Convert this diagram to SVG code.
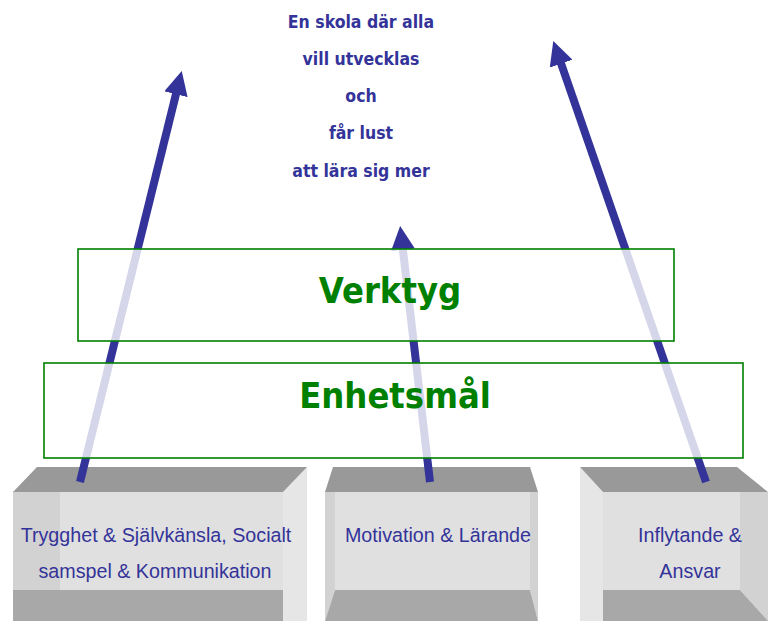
<svg xmlns="http://www.w3.org/2000/svg" width="768" height="621" viewBox="0 0 768 621">
<style>
.ceil{fill:#999999}
.floor{fill:#a8a8a8}
.back{fill:#e0e0e0}
.sideD{fill:#d2d2d2}
.sideL{fill:#e6e6e6}
.lbl{font-family:"Liberation Sans",Arial,sans-serif;font-size:19.7px;fill:#333399;text-anchor:middle}
.goal{font-family:"DejaVu Sans Condensed","DejaVu Sans",sans-serif;font-weight:bold;font-size:17.5px;fill:#333399;text-anchor:middle}
.band{fill:#ffffff;fill-opacity:0.8;stroke:#008000;stroke-width:1.6}
.head{font-family:"DejaVu Sans Condensed","DejaVu Sans",sans-serif;font-weight:bold;font-size:36px;fill:#008000;text-anchor:middle}
.arr{stroke:#333399;stroke-width:8;fill:none;marker-end:url(#ah)}
</style>
<defs>
<marker id="ah" markerUnits="userSpaceOnUse" markerWidth="24" markerHeight="24" refX="1" refY="12" orient="auto" viewBox="0 0 24 24">
<path d="M0,0 L24,12 L0,24 z" fill="#333399"/>
</marker>
</defs>
<rect width="768" height="621" fill="#ffffff"/>

<g id="box1">
<rect class="back" x="13" y="492" width="270" height="98"/>
<rect class="sideD" x="13" y="492" width="47" height="98"/>
<polygon class="sideL" points="283,492 307,467 307,621 283,621"/>
<polygon class="ceil" points="37,467 307,467 283,492 13,492"/>
<rect class="floor" x="13" y="590" width="270" height="31"/>
<text class="lbl" x="156" y="542">Trygghet &amp; Självkänsla, Socialt</text>
<text class="lbl" x="155" y="578">samspel &amp; Kommunikation</text>
</g>

<g id="box2">
<rect class="back" x="335" y="492" width="195" height="98"/>
<polygon class="sideD" points="325,492 335,492 335,590 325,621"/>
<polygon class="sideD" points="530,492 538,492 538,621 530,590"/>
<polygon class="ceil" points="333,467 530,467 538,492 325,492"/>
<polygon class="floor" points="335,590 530,590 538,621 325,621"/>
<text class="lbl" x="438" y="542">Motivation &amp; Lärande</text>
</g>

<g id="box3">
<rect class="back" x="603" y="492" width="137" height="98"/>
<polygon class="sideL" points="580,467 603,492 603,621 580,621"/>
<polygon class="sideD" points="740,492 768,492 768,621 740,590"/>
<polygon class="ceil" points="580,467 737,467 768,492 603,492"/>
<polygon class="floor" points="603,590 740,590 768,621 603,621"/>
<text class="lbl" x="690" y="542">Inflytande &amp;</text>
<text class="lbl" x="690" y="578">Ansvar</text>
</g>

<g id="connectors">
<line class="arr" x1="80" y1="482" x2="176.2" y2="93.3"/>
<line class="arr" x1="430" y1="482" x2="402.8" y2="248.8"/>
<line class="arr" x1="706" y1="482" x2="560.8" y2="62.7"/>
</g>

<g id="verktyg">
<rect class="band" x="78" y="249" width="596" height="92"/>
<text class="head" x="390" y="303">Verktyg</text>
</g>

<g id="enhetsmal">
<rect class="band" x="44" y="363" width="699" height="95"/>
<text class="head" x="395" y="408">Enhetsmål</text>
</g>

<g id="goal">
<text class="goal" x="361" y="28">En skola där alla</text>
<text class="goal" x="361" y="65">vill utvecklas</text>
<text class="goal" x="361" y="102">och</text>
<text class="goal" x="361" y="139">får lust</text>
<text class="goal" x="361" y="177">att lära sig mer</text>
</g>
</svg>
